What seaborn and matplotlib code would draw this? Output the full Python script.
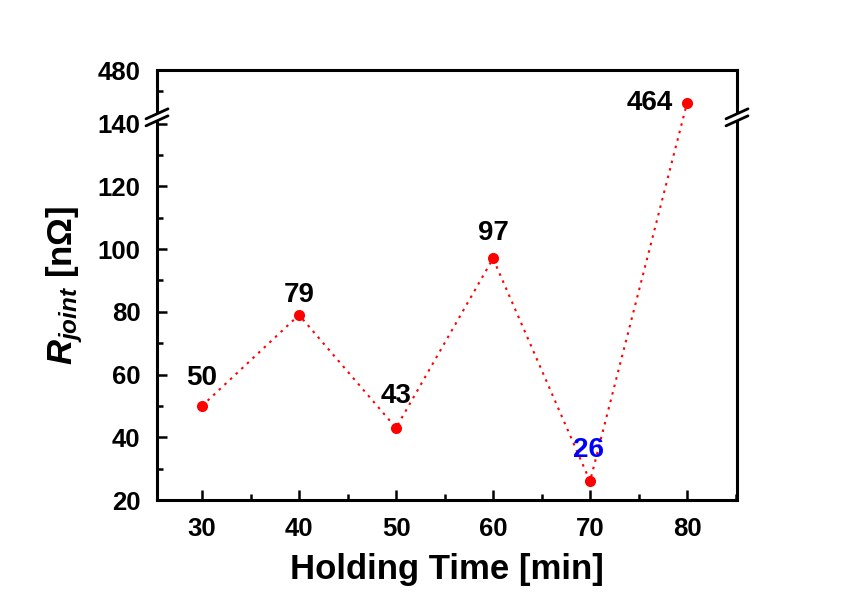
import numpy as np
import pandas as pd
import matplotlib
matplotlib.use("Agg")
import matplotlib.pyplot as plt
import seaborn as sns
from matplotlib.patches import Polygon
from matplotlib.lines import Line2D

# ---- data ----
holding_time = [30, 40, 50, 60, 70, 80]
r_joint = [50, 79, 43, 97, 26, 464]
label_colors = ["black", "black", "black", "black", "blue", "black"]
x_ticks = [30, 40, 50, 60, 70, 80]
y_ticks = [20, 40, 60, 80, 100, 120, 140, 480]

sns.set_style("ticks")
plt.rcParams["font.family"] = ["Liberation Sans", "DejaVu Sans"]
plt.rcParams["mathtext.fontset"] = "custom"
plt.rcParams["mathtext.it"] = "Liberation Sans:italic:bold"
plt.rcParams["mathtext.rm"] = "Liberation Sans:bold"
plt.rcParams["mathtext.bf"] = "Liberation Sans:bold"
for k in ["text.color", "axes.labelcolor", "axes.edgecolor", "xtick.color", "ytick.color"]:
    plt.rcParams[k] = "black"

# broken y scale
LOW_TOP, HIGH_BOT, K = 142.0, 457.0, 0.656
xp = [-1e6, LOW_TOP, HIGH_BOT, 1e6]
fp = [-1e6, LOW_TOP, LOW_TOP + 0.001, LOW_TOP + 0.001 + (1e6 - HIGH_BOT) * K]


def fwd(y):
    return np.interp(y, xp, fp)


def inv(y):
    return np.interp(y, fp, xp)


fig = plt.figure(figsize=(8.55, 6), dpi=100)
ax = fig.add_axes([157 / 855, 100 / 600, 580 / 855, 430 / 600])
ax.set_yscale("function", functions=(fwd, inv))

df = pd.DataFrame({"t": holding_time, "r": r_joint})
sns.lineplot(data=df, x="t", y="r", ax=ax, color="red", linestyle=(0, (1.2, 2.5)),
             linewidth=1.5, marker="o", markersize=8, markeredgewidth=0, sort=False)

ax.set_xlim(25.36, 85.15)
ax.set_ylim(20, 480)
ax.set_xticks(x_ticks)
ax.set_xticks([35, 45, 55, 65, 75, 85], minor=True)
ax.set_yticks(y_ticks)
ax.set_yticks([30, 50, 70, 90, 110, 130, 470], minor=True)
ax.tick_params(which="both", direction="in", width=1.8, top=False, right=False)
ax.tick_params(which="major", length=7, labelsize=18.5)
ax.tick_params(axis="y", which="major", pad=12)
ax.tick_params(axis="x", which="major", pad=12)
ax.tick_params(which="minor", length=4)
for lab in ax.get_xticklabels() + ax.get_yticklabels():
    lab.set_fontweight("bold")
for s in ax.spines.values():
    s.set_linewidth(2.2)
    s.set_visible(True)

ax.set_xlabel("Holding Time [min]", fontsize=25, fontweight="bold", labelpad=9)
ax.set_ylabel(r"$R_{joint}$ [nΩ]", fontsize=25, fontweight="bold", labelpad=9)

# value labels
offsets = [(0, 28), (0, 20), (0, 32), (0, 25), (-2, 31), (-37, 0)]
for xv, yv, c, off in zip(holding_time, r_joint, label_colors, offsets):
    ax.annotate(str(yv), (xv, yv), xytext=off, textcoords="offset pixels",
                ha="center", va="center", fontsize=20, fontweight="bold", color=c)

# break marks
W, H = 580.0, 430.0
ybreak_ax = ax.transAxes.inverted().transform(ax.transData.transform((30, LOW_TOP)))[1]
for xa in (0.0, 1.0):
    dx, dy, gap = 11 / W, 5 / H, 3.5 / H
    yc = ybreak_ax
    p1 = [(xa - dx, yc - dy - gap), (xa + dx, yc + dy - gap)]
    p2 = [(xa - dx, yc - dy + gap), (xa + dx, yc + dy + gap)]
    poly = Polygon([p1[0], p1[1], p2[1], p2[0]], closed=True, transform=ax.transAxes,
                   facecolor="white", edgecolor="none", clip_on=False, zorder=10)
    ax.add_patch(poly)
    for p in (p1, p2):
        ax.add_line(Line2D([p[0][0], p[1][0]], [p[0][1], p[1][1]], transform=ax.transAxes,
                           color="black", linewidth=2, clip_on=False, zorder=11))

fig.savefig("out.png", dpi=100)
